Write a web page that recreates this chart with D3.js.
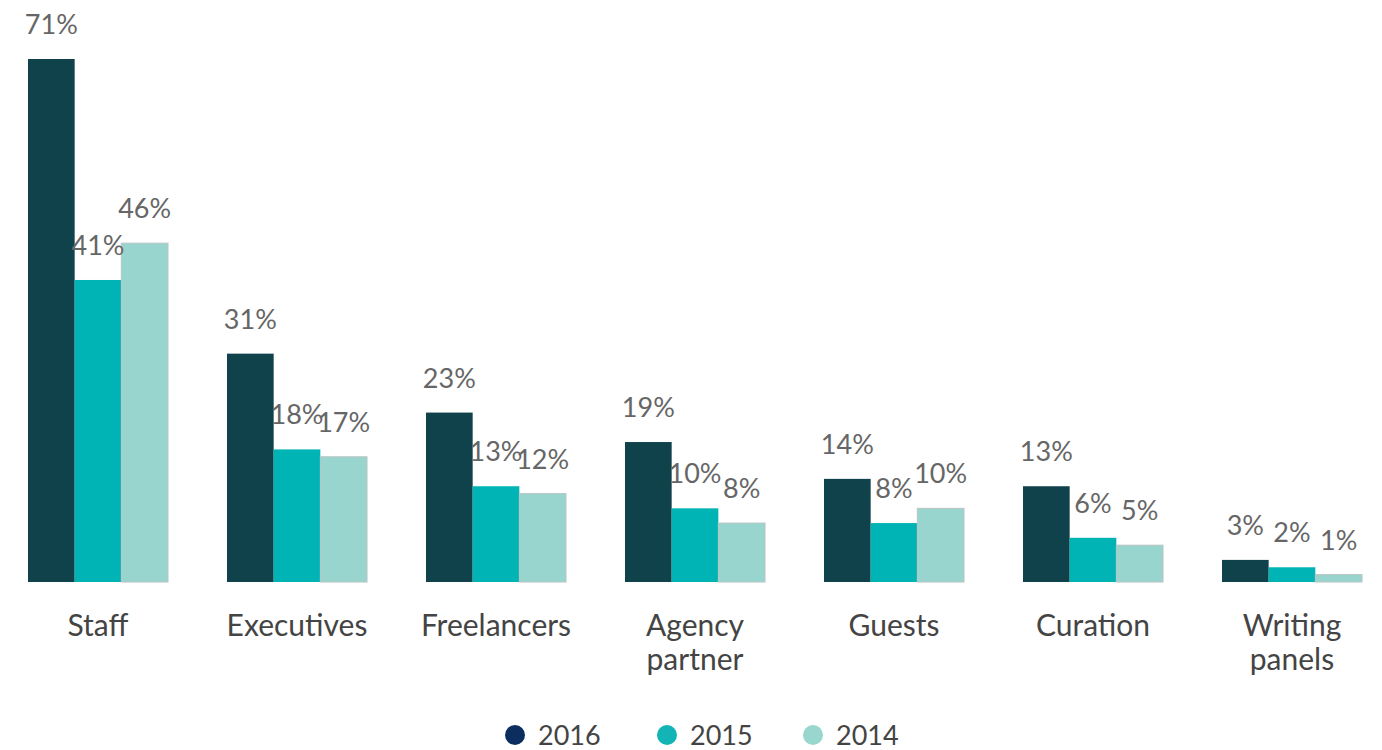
<!DOCTYPE html>
<html><head><meta charset="utf-8">
<script src="https://cdn.jsdelivr.net/npm/d3@7"></script>
<style>
html,body{margin:0;padding:0;background:#fff;}
svg{display:block;font-family:Lato,"Open Sans",sans-serif;}
</style></head>
<body><svg id="chart" width="1382" height="750"></svg>
<script>
const categories = [["Staff"],["Executives"],["Freelancers"],["Agency","partner"],["Guests"],["Curation"],["Writing","panels"]];
const seriesNames = ["2016","2015","2014"];
const values2016 = [71,31,23,19,14,13,3];
const values2015 = [41,18,13,10,8,6,2];
const values2014 = [46,17,12,8,10,5,1];
const barColors = ["#0f424b","#00b3b4","#98d5ce"];
const legendColors = ["#0c2e5e","#12b4b5","#98d6ce"];

const svg = d3.select("#chart");
const catKeys = categories.map(c => c.join(" "));
const series = [values2016, values2015, values2014];

const x0 = d3.scaleBand().domain(catKeys).range([28, 1362]).paddingInner(59/199).paddingOuter(0);
const x1 = d3.scaleBand().domain(seriesNames).range([0, x0.bandwidth()]).padding(0);
const y = d3.scaleLinear().domain([0, 71]).range([582, 59]);

const data = [];
catKeys.forEach((c, i) => seriesNames.forEach((s, j) => data.push({c, s, j, v: series[j][i]})));

svg.append("g").selectAll("rect").data(data).join("rect")
  .attr("x", d => x0(d.c) + x1(d.s))
  .attr("y", d => y(d.v))
  .attr("width", x1.bandwidth())
  .attr("height", d => y(0) - y(d.v))
  .attr("fill", d => barColors[d.j])
  .attr("stroke", d => d.j === 2 ? "#b8c4c2" : "none")
  .attr("stroke-width", 1);

svg.append("g").selectAll("text").data(data).join("text")
  .attr("x", d => x0(d.c) + x1(d.s) + x1.bandwidth()/2)
  .attr("y", d => y(d.v) - 25)
  .attr("text-anchor", "middle")
  .attr("font-size", 27)
  .attr("fill", "#666")
  .text(d => d.v + "%");

const cat = svg.append("g").selectAll("text").data(categories).join("text")
  .attr("x", (d, i) => x0(catKeys[i]) + x0.bandwidth()/2)
  .attr("y", 636)
  .attr("text-anchor", "middle")
  .attr("font-size", 30)
  .attr("fill", "#444");
cat.each(function(d){
  const t = d3.select(this);
  d.forEach((line, k) => t.append("tspan").attr("x", t.attr("x")).attr("dy", k === 0 ? 0 : 34).text(line));
});

const legendX = [515, 667, 813];
const lg = svg.append("g").selectAll("g").data(seriesNames).join("g")
  .attr("transform", (d, i) => `translate(${legendX[i]},735)`);
lg.append("circle").attr("r", 10).attr("fill", (d, i) => legendColors[i]);
lg.append("text").attr("x", 23).attr("y", 10).attr("font-size", 27).attr("fill", "#444").text(d => d);
</script></body></html>
